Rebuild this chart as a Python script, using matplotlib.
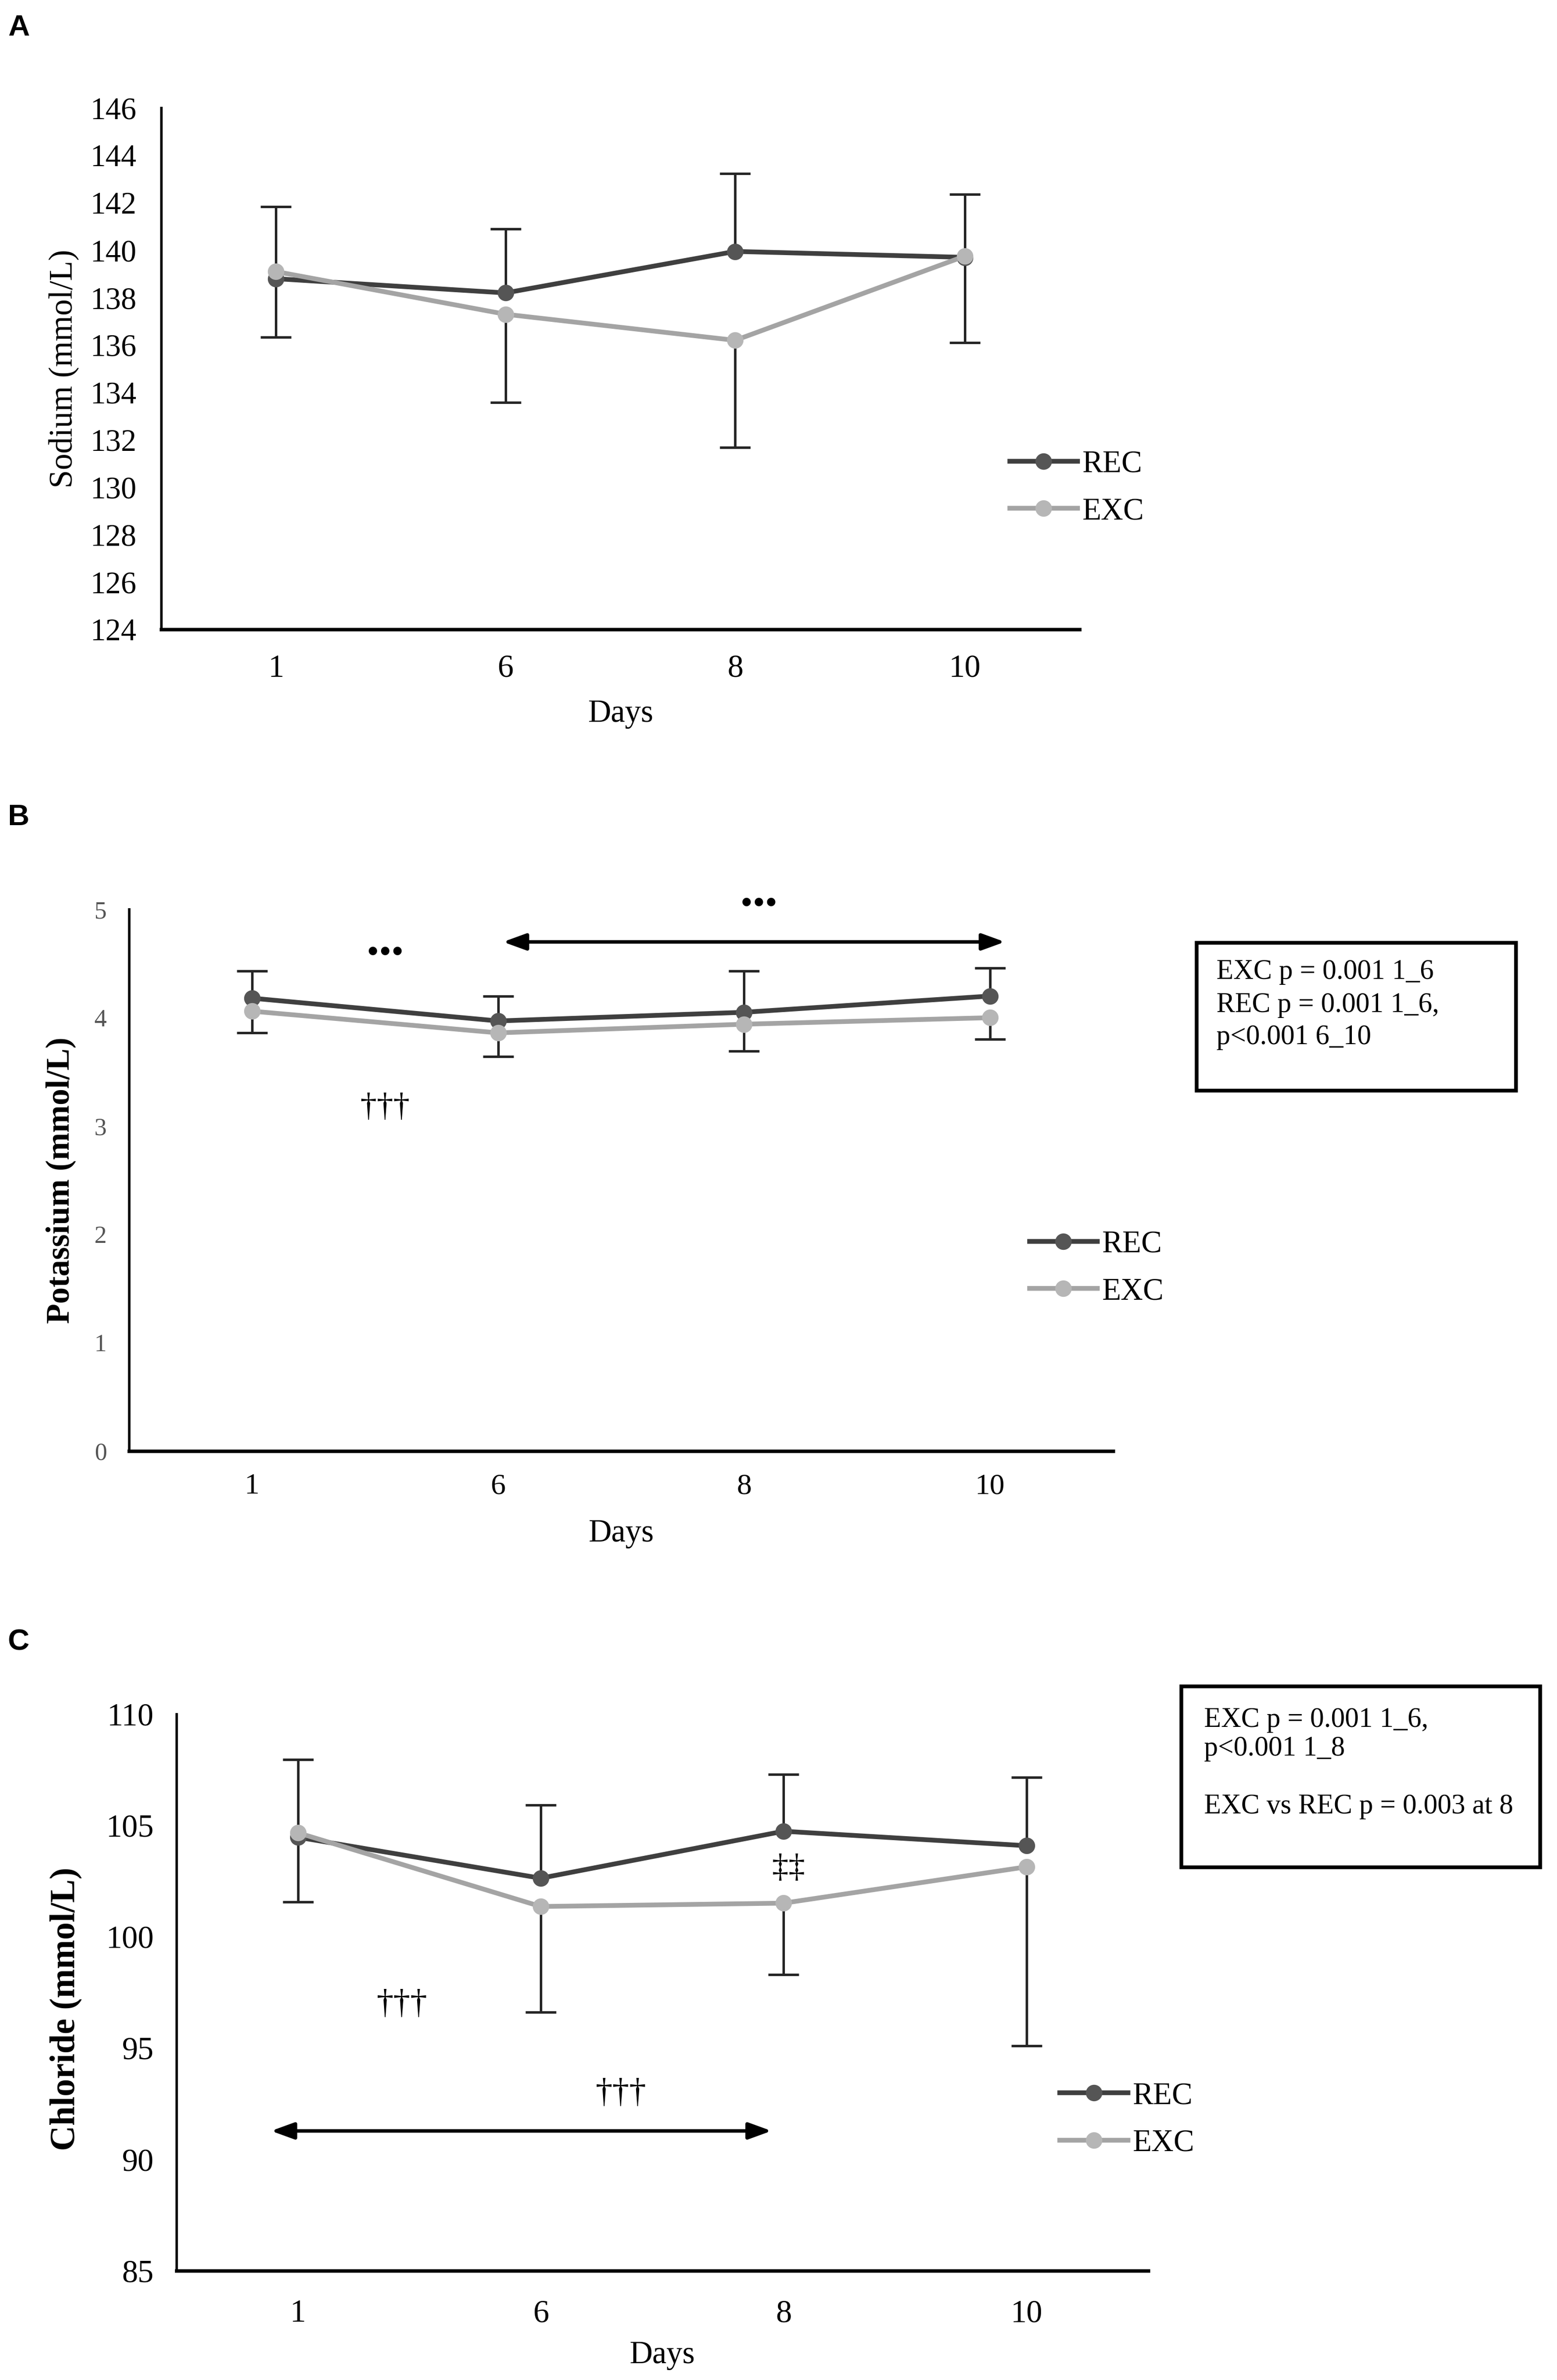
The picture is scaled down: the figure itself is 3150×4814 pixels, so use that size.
import numpy as np
import matplotlib
matplotlib.use('Agg')
import matplotlib.pyplot as plt
from matplotlib.patches import Rectangle

# ---------------- data ----------------
days = ['1', '6', '8', '10']

sodium_rec = [138.8, 138.2, 139.95, 139.7]
sodium_exc = [139.1, 137.3, 136.2, 139.75]
sodium_rec_sd_up = [3.03, 2.7, 3.28, 2.65]
sodium_exc_sd_down = [2.76, 3.72, 4.51, 3.65]

potassium_rec = [4.18, 3.97, 4.05, 4.20]
potassium_exc = [4.06, 3.86, 3.94, 4.00]
potassium_rec_sd_up = [0.25, 0.23, 0.38, 0.26]
potassium_exc_sd_down = [0.20, 0.22, 0.25, 0.20]

chloride_rec = [104.46, 102.62, 104.73, 104.08]
chloride_exc = [104.66, 101.35, 101.50, 103.13]
chloride_rec_sd_up = [3.49, 3.28, 2.56, 3.07]
chloride_exc_sd_down = [3.11, 4.74, 3.22, 8.03]

sodium_ticks = list(range(124, 147, 2))
potassium_ticks = [0, 1, 2, 3, 4, 5]
chloride_ticks = [85, 90, 95, 100, 105, 110]

box_b_lines = ["EXC p = 0.001 1_6", "REC p = 0.001 1_6,", "p<0.001 6_10"]
box_c_lines = ["EXC p = 0.001 1_6,", "p<0.001 1_8", "", "EXC vs REC p = 0.003 at 8"]

# ---------------- style ----------------
plt.rcParams['font.family'] = ['Liberation Serif', 'DejaVu Serif']
REC_LINE = '#3f3f3f'
REC_MARK = '#555555'
EXC_LINE = '#a4a4a4'
EXC_MARK = '#b6b6b6'
ERR = '#262626'

W_PX, H_PX = 3150, 4814
fig = plt.figure(figsize=(W_PX / 300, H_PX / 300), dpi=300)
fig.patch.set_facecolor('white')

# reference layout measured on a 1024 x 1565 grid
def fx(v):
    return v / 1024.0

def fy(v):
    return 1.0 - v / 1565.0


def make_axes(left, top, right, bottom):
    return fig.add_axes([fx(left), fy(bottom), fx(right) - fx(left), fy(top) - fy(bottom)])


def draw_panel(ax, rec, exc, rec_up, exc_dn, ylim, yticks, ylabel,
               ytick_size, xtick_size, ytick_color, ypad, xpad, ylabel_size, ylabel_weight):
    x = np.arange(len(days))
    rec = np.asarray(rec)
    exc = np.asarray(exc)
    # error bars: upper for REC, lower for EXC
    e1 = ax.errorbar(x, rec, yerr=[np.zeros(len(x)), rec_up], fmt='none',
                     ecolor=ERR, elinewidth=1.2, capsize=7.5, capthick=1.2, zorder=2)
    e1[1][0].set_visible(False)
    e2 = ax.errorbar(x, exc, yerr=[exc_dn, np.zeros(len(x))], fmt='none',
                     ecolor=ERR, elinewidth=1.2, capsize=7.5, capthick=1.2, zorder=2)
    e2[1][1].set_visible(False)
    l_rec, = ax.plot(x, rec, '-o', color=REC_LINE, lw=2.3, ms=7,
                     mfc=REC_MARK, mec=REC_MARK, label='REC', zorder=3)
    l_exc, = ax.plot(x, exc, '-o', color=EXC_LINE, lw=2.3, ms=7,
                     mfc=EXC_MARK, mec=EXC_MARK, label='EXC', zorder=4)
    ax.set_xlim(-0.5, len(days) - 0.5)
    ax.set_ylim(*ylim)
    ax.set_xticks(x)
    ax.set_xticklabels(days)
    ax.set_yticks(yticks)
    ax.tick_params(axis='both', length=0)
    ax.tick_params(axis='y', labelsize=ytick_size, labelcolor=ytick_color, pad=ypad)
    ax.tick_params(axis='x', labelsize=xtick_size, pad=xpad)
    for s in ['top', 'right']:
        ax.spines[s].set_visible(False)
    ax.spines['left'].set_linewidth(1.2)
    ax.spines['bottom'].set_linewidth(1.7)
    ax.set_ylabel(ylabel, fontsize=ylabel_size, fontweight=ylabel_weight)
    ax.set_xlabel('Days', fontsize=15.5)
    return l_rec, l_exc


def place_legend(ax, handles, x_left, y_mid):
    ax.legend(handles=handles, labels=['REC', 'EXC'], loc='center left',
              bbox_to_anchor=(fx(x_left), fy(y_mid)), bbox_transform=fig.transFigure,
              frameon=False, fontsize=15, handlelength=2.2, handletextpad=0.15,
              borderpad=0, borderaxespad=0, labelspacing=0.6)


ARROW = dict(arrowstyle='<|-|>,head_length=0.55,head_width=0.2',
             color='black', lw=1.7, mutation_scale=17, shrinkA=0, shrinkB=0)

# ---------------- Panel A ----------------
axA = make_axes(106, 71, 710, 414)
hA = draw_panel(axA, sodium_rec, sodium_exc, sodium_rec_sd_up, sodium_exc_sd_down,
                (124, 146), sodium_ticks, 'Sodium (mmol/L)', 15, 15.5, 'black', 12, 12, 16, 'normal')
axA.yaxis.set_label_coords(-(106 - 52) / (710 - 106), 0.5)
axA.xaxis.set_label_coords(0.5, -(460 - 414) / (414 - 71))
place_legend(axA, hA, 664, 321)

# ---------------- Panel B ----------------
axB = make_axes(85, 598, 732, 954)
hB = draw_panel(axB, potassium_rec, potassium_exc, potassium_rec_sd_up, potassium_exc_sd_down,
                (0, 5), potassium_ticks, 'Potassium (mmol/L)', 12, 14.5, '#555555', 11, 11, 16, 'bold')
axB.yaxis.set_label_coords(-(85 - 50) / (732 - 85), 0.5)
axB.xaxis.set_label_coords(0.5, -(999 - 954) / (954 - 598))
place_legend(axB, hB, 677, 834)

axB.annotate('', xy=(3.06, 4.70), xytext=(1.02, 4.70), annotation_clip=False, arrowprops=ARROW)
axB.text(0.54, 4.59, '•••', ha='center', va='center', fontsize=17, clip_on=False)
axB.text(2.06, 5.04, '•••', ha='center', va='center', fontsize=17, clip_on=False)
axB.text(0.54, 3.17, '†††', ha='center', va='center', fontsize=16, clip_on=False)

fig.patches.append(Rectangle((fx(787), fy(717)), fx(997) - fx(787), fy(620) - fy(717),
                             transform=fig.transFigure, fill=False, ec='black', lw=1.8))
for txt, yy in zip(box_b_lines, [639, 661, 682]):
    fig.text(fx(800), fy(yy), txt, ha='left', va='center', fontsize=13.5)

# ---------------- Panel C ----------------
axC = make_axes(116, 1127, 755, 1493)
hC = draw_panel(axC, chloride_rec, chloride_exc, chloride_rec_sd_up, chloride_exc_sd_down,
                (85, 110), chloride_ticks, 'Chloride (mmol/L)', 15.5, 15.5, 'black', 11, 14, 17, 'bold')
axC.yaxis.set_label_coords(-(116 - 54) / (755 - 116), 0.47)
axC.xaxis.set_label_coords(0.5, -(1539 - 1493) / (1493 - 1127))
place_legend(axC, hC, 697, 1394)

axC.annotate('', xy=(1.95, 91.27), xytext=(-0.11, 91.27), annotation_clip=False, arrowprops=ARROW)
axC.text(0.43, 96.94, '†††', ha='center', va='center', fontsize=16.5, clip_on=False)
axC.text(1.33, 92.94, '†††', ha='center', va='center', fontsize=16.5, clip_on=False)
axC.text(2.02, 103.06, '‡‡', ha='center', va='center', fontsize=16, clip_on=False)

fig.patches.append(Rectangle((fx(777), fy(1228)), fx(1013) - fx(777), fy(1109) - fy(1228),
                             transform=fig.transFigure, fill=False, ec='black', lw=1.8))
for txt, yy in zip(box_c_lines, [1131, 1150, 1169, 1188]):
    if txt:
        fig.text(fx(792), fy(yy), txt, ha='left', va='center', fontsize=13.5)

# ---------------- panel letters ----------------
for letter, top in [('A', 29), ('B', 1626), ('C', 3295)]:
    fig.text(16 / W_PX, 1 - top / H_PX, letter, ha='left', va='top', fontsize=14.5,
             fontweight='bold', family=['Liberation Sans', 'DejaVu Sans'])

fig.savefig('out.png', dpi=300, facecolor='white')
